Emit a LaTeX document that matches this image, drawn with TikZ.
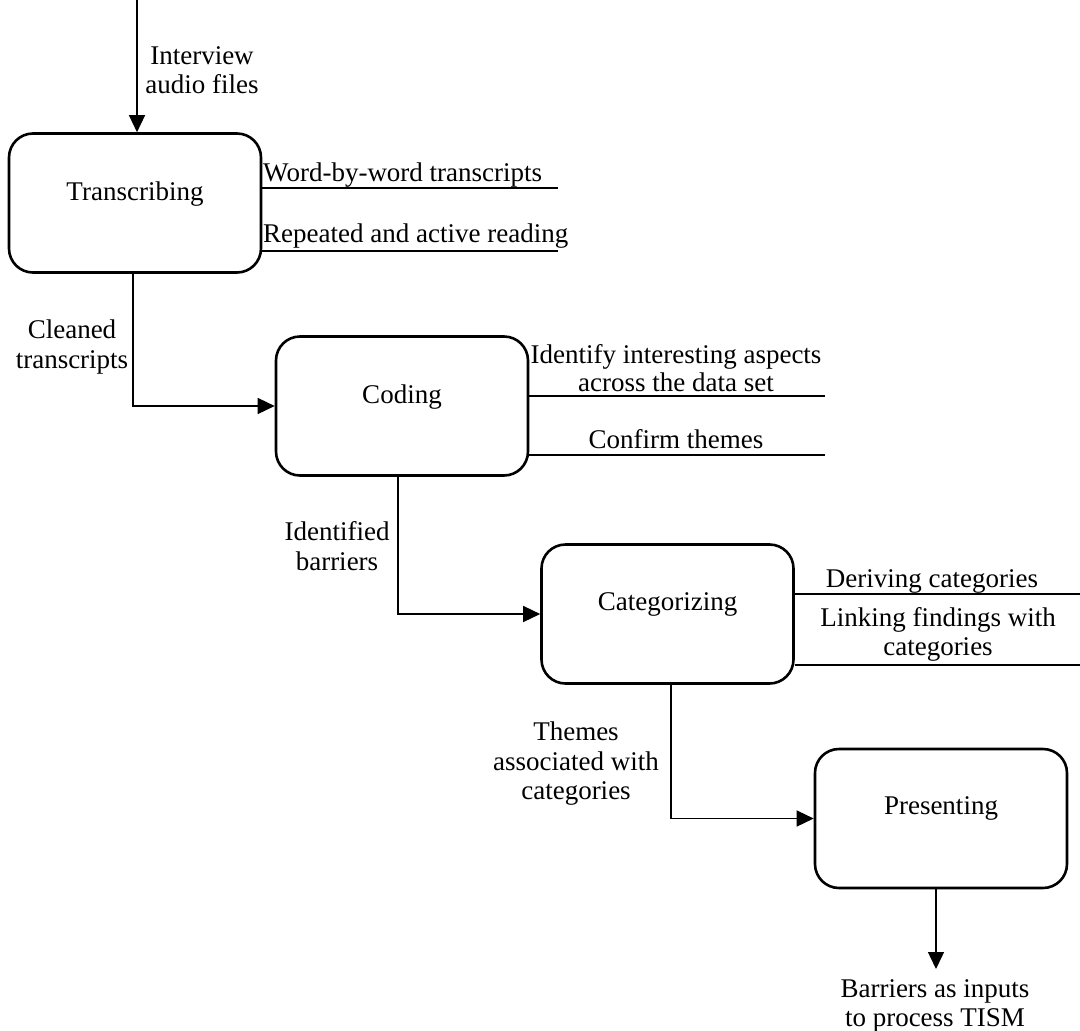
\documentclass[tikz,border=0pt]{standalone}
\usepackage{fontspec}
\setmainfont{Liberation Serif}
\usetikzlibrary{arrows.meta,calc}
\begin{document}
\begin{tikzpicture}[x=1pt,y=-1pt,
  procbox/.style={draw,line width=2.6pt,rounded corners=24pt,minimum width=252pt,minimum height=139pt,inner sep=0pt},
  boxtext/.style={font=\fontsize{27}{29}\selectfont,inner sep=0pt},
  lbl/.style={font=\fontsize{27}{29.5}\selectfont,align=center,inner sep=0pt},
  flow/.style={line width=1.4pt,-{Triangle[length=17pt,width=16pt]}},
  side/.style={line width=1.4pt}]
\useasboundingbox (0,0) rectangle (1080,1031);
\fill[white] (0,0) rectangle (1080,1031);

% boxes
\node[procbox] (T) at (135,203) {};
\node[procbox] (C) at (402,406) {};
\node[procbox] (K) at (667.5,614) {};
\node[procbox] (P) at (941,818.5) {};
\node[boxtext] (Tt) at ($(T.center)+(0,-9)$) {Transcribing};
\node[boxtext] (Ct) at ($(C.center)+(0,-9)$) {Coding};
\node[boxtext] (Kt) at ($(K.center)+(0,-10)$) {Categorizing};
\node[boxtext] (Pt) at ($(P.center)+(0,-10)$) {Presenting};

% flows
\coordinate (in) at (137,0);
\coordinate (out) at (936,969);
\draw[flow] (in) -- (in |- T.north);
\draw[flow] (T.south -| 133,0) |- (C.west);
\draw[flow] (C.south -| 398,0) |- (K.west);
\draw[flow] (K.south -| 671,0) |- (P.west);
\draw[flow] (P.south -| out) -- (out);

% flow labels
\node[lbl] (Lin) at (202,70) {Interview\\audio files};
\node[lbl] (Lclean) at (72,347) {Cleaned\\transcripts};
\node[lbl] (Lident) at (337,546) {Identified\\barriers};
\node[lbl] (Lthem) at (576,764) {Themes\\associated with\\categories};
\node[lbl] (Lout) at (935,1006) {Barriers as inputs\\to process TISM};

% side lines
\coordinate (t1) at (558,188);
\coordinate (t2) at (558,251);
\coordinate (c1) at (825,396);
\coordinate (c2) at (825,455);
\coordinate (k1) at (1080,594);
\coordinate (k2) at (1080,665);
\draw[side] (T.east |- t1) -- (t1);
\draw[side] (T.east |- t2) -- (t2);
\draw[side] (C.east |- c1) -- (c1);
\draw[side] (C.east |- c2) -- (c2);
\draw[side] (K.east |- k1) -- (k1);
\draw[side] (K.east |- k2) -- (k2);

% side labels
\node[lbl,anchor=base west] (St1) at (263,181) {Word-by-word transcripts};
\node[lbl,anchor=base west] (St2) at (263,242) {Repeated and active reading};
\node[lbl,font=\fontsize{27}{28}\selectfont] (Sc1) at (676,368) {Identify interesting aspects\\across the data set};
\node[lbl,anchor=base] (Sc2) at (676,448) {Confirm themes};
\node[lbl,anchor=base] (Sk1) at (932,587) {Deriving categories};
\node[lbl,font=\fontsize{27}{29}\selectfont] (Sk2) at (938,634) {Linking findings with\\categories};
\end{tikzpicture}
\end{document}
